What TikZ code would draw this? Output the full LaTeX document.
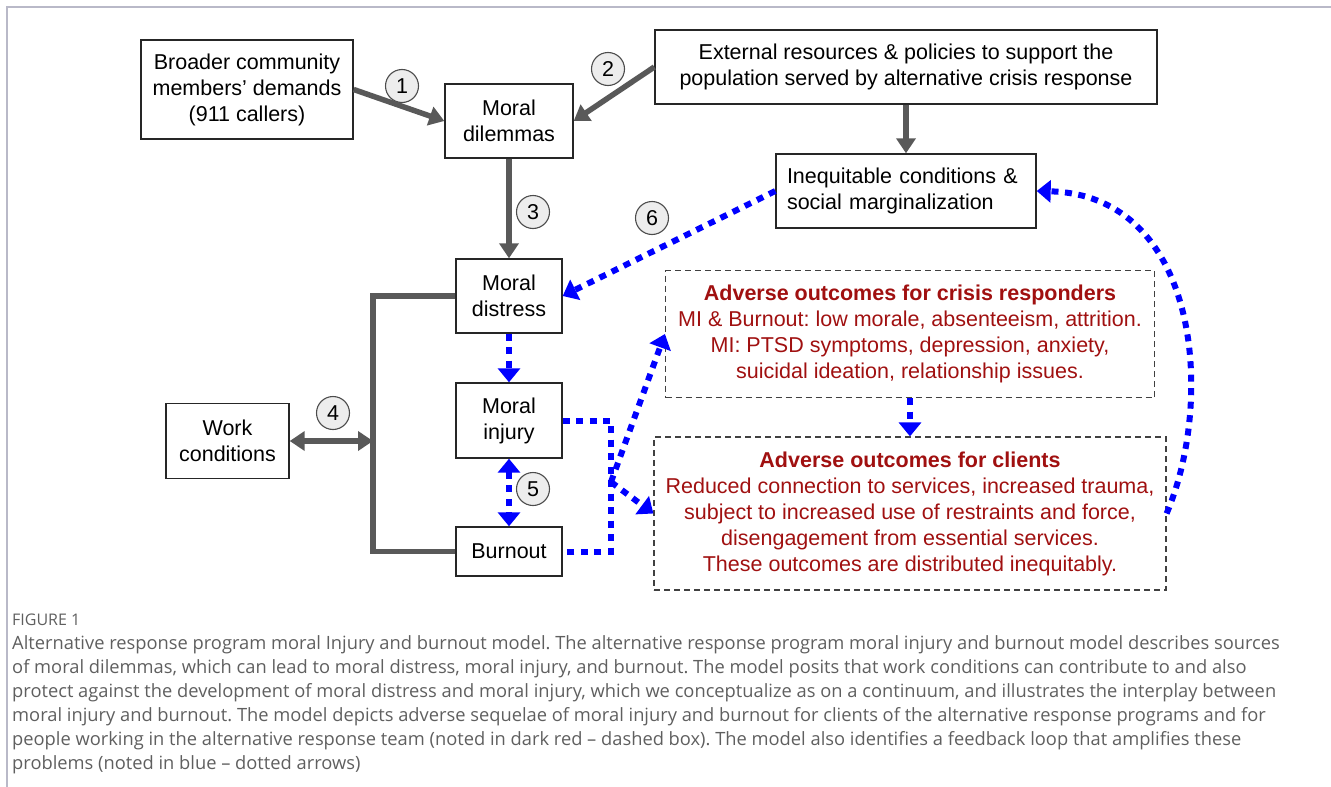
\documentclass[tikz,border=0pt]{standalone}
\usepackage{fontspec}
\setmainfont{Liberation Sans}
\newfontfamily\capfont{Open Sans}
\usetikzlibrary{arrows.meta}
\definecolor{linegrey}{RGB}{89,89,89}
\definecolor{outred}{RGB}{160,16,16}
\definecolor{capgrey}{RGB}{95,95,95}
\definecolor{framegrey}{RGB}{185,185,200}
\newcommand\diagfont{\fontsize{21.5}{26}\selectfont}
\frenchspacing

\begin{document}
\begin{tikzpicture}[x=1pt, y=-1pt,
    box/.style={draw=black!85, line width=1.4pt, inner sep=0pt, align=center, font=\diagfont},
    outbox/.style={box, draw=black!75, line width=1.2pt, dash pattern=on 6pt off 4pt, text=outred},
    num/.style={circle, draw=black!70, fill=black!7, line width=1.1pt, minimum size=33pt, inner sep=0pt, font=\diagfont},
    grey/.style={draw=linegrey, line width=5.5pt},
    greyarrow/.style={grey, -{Triangle[length=15pt,width=19pt]}},
    dots/.style={draw=blue, line width=6pt, dash pattern=on 7pt off 6.5pt},
    bluearrow/.style={dots, -{Triangle[length=14pt,width=22pt]}}]
        \useasboundingbox (0,0) rectangle (1331,787);
        \draw[framegrey, line width=1.2pt] (7,787) -- (7,7) -- (1331,7);

        \node[box, minimum width=212pt, minimum height=99pt] (callers) at (247,89.5) {Broader community\\members’ demands\\(911 callers)};
        \node[box, minimum width=128pt, minimum height=74pt] (dilemma) at (509,121) {Moral\\dilemmas};
        \node[box, minimum width=502pt, minimum height=74pt] (extres) at (906,67) {External resources \& policies to support the\\population served by alternative crisis response};
        \node[box, minimum width=260pt, minimum height=74pt, text width=238pt, align=left] (inequ) at (906,191) {Inequitable conditions \&\\social marginalization};
        \node[box, minimum width=106pt, minimum height=74pt] (distress) at (509,296) {Moral\\distress};
        \node[box, minimum width=106pt, minimum height=75pt] (injury) at (509,420.5) {Moral\\injury};
        \node[box, minimum width=106pt, minimum height=49pt] (burnout) at (509,551.5) {Burnout};
        \node[box, minimum width=123pt, minimum height=75pt] (work) at (227.5,441) {Work\\conditions};
        \node[outbox, minimum width=489pt, minimum height=127pt] (responders) at (910,334) {\textbf{Adverse outcomes for crisis responders}\\MI \& Burnout: low morale, absenteeism, attrition.\\MI: PTSD symptoms, depression, anxiety,\\suicidal ideation, relationship issues.};
        \node[outbox, minimum width=512pt, minimum height=153pt] (clients) at (910,513.5) {\textbf{Adverse outcomes for clients}\\Reduced connection to services, increased trauma,\\subject to increased use of restraints and force,\\disengagement from essential services.\\These outcomes are distributed inequitably.};

        \node[num] (n1) at (402,86) {1};
        \node[num] (n2) at (608,69) {2};
        \node[num] (n3) at (533,212) {3};
        \node[num] (n4) at (333,413) {4};
        \node[num] (n5) at (533,489) {5};
        \node[num] (n6) at (652,218) {6};

        \coordinate (spine) at (373,441);
        \coordinate (split) at (611,482);

        \draw[greyarrow] (callers.east) -- (dilemma.west);
        \draw[greyarrow] (extres.west) -- (dilemma.east);
        \draw[greyarrow] (dilemma.south) -- (distress.north);
        \draw[greyarrow] (extres.south) -- (inequ.north);
        \draw[grey] (distress.west) -| (spine) |- (burnout.west);
        \draw[grey, {Triangle[length=15pt,width=19pt]}-{Triangle[length=15pt,width=19pt]}] (work.east) -- (spine);

        \draw[bluearrow] (distress.south) -- (injury.north);
        \draw[dots, {Triangle[length=14pt,width=22pt]}-{Triangle[length=14pt,width=22pt]}] (injury.south) -- (burnout.north);
        \draw[bluearrow] (inequ.west) -- (distress.east);
        \draw[dots] (injury.east) -| (split) |- (burnout.east);
        \draw[bluearrow] (split) -- (responders.west);
        \draw[bluearrow] (split) -- (clients.west);
        \draw[bluearrow] (responders.south) -- (clients.north);
        \draw[bluearrow] (clients.east) .. controls (1215,400) and (1200,195) .. (inequ.east);

        \node[anchor=west, inner sep=0pt, font=\capfont\fontsize{16}{18}\selectfont, text=capgrey] (figlabel) at (12,620) {FIGURE 1};
        \node[anchor=north west, align=left, inner sep=0pt, font=\capfont\fontsize{18.3}{24}\selectfont, text=capgrey] (caption) at (12,635) {Alternative response program moral Injury and burnout model. The alternative response program moral injury and burnout model describes sources\\of moral dilemmas, which can lead to moral distress, moral injury, and burnout. The model posits that work conditions can contribute to and also\\protect against the development of moral distress and moral injury, which we conceptualize as on a continuum, and illustrates the interplay between\\moral injury and burnout. The model depicts adverse sequelae of moral injury and burnout for clients of the alternative response programs and for\\people working in the alternative response team (noted in dark red – dashed box). The model also identifies a feedback loop that amplifies these\\problems (noted in blue – dotted arrows)};
\end{tikzpicture}
\end{document}
